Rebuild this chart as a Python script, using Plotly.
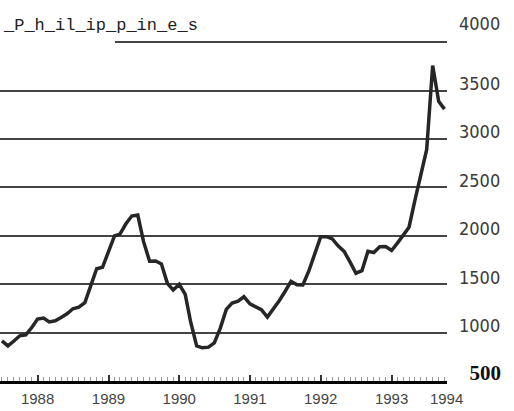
import pandas as pd
import plotly.graph_objects as go

# Monthly values, Jul 1987 .. Oct 1993
start_month = "1987-07-01"
values = [915, 863, 913, 967, 977, 1050, 1140, 1150, 1110, 1122,
          1156, 1195, 1247, 1263, 1310, 1485, 1660, 1675, 1835, 2000,
          2018, 2125, 2205, 2215, 1940, 1738, 1740, 1710, 1510, 1440,
          1500, 1395, 1110, 863, 843, 850, 893, 1047, 1240, 1305,
          1325, 1372, 1297, 1269, 1237, 1160, 1237, 1330, 1425, 1530,
          1494, 1493, 1637, 1808, 1990, 1992, 1968, 1895, 1840, 1728,
          1614, 1640, 1840, 1828, 1888, 1890, 1849, 1928, 2001, 2090,
          2365, 2624, 2890, 3760, 3390, 3310]
dates = pd.date_range(start_month, periods=len(values), freq="MS")

year_tick_dates = ["1988-01-01", "1989-01-01", "1990-01-01", "1991-01-01",
                   "1992-01-01", "1993-01-01", "1993-10-12"]
year_tick_labels = ["1988", "1989", "1990", "1991", "1992", "1993", "1994"]

y_ticks = [500, 1000, 1500, 2000, 2500, 3000, 3500, 4000]
y_tick_labels = ["<span style='font-family:Liberation Serif;font-weight:bold;font-size:21px;color:#111'>&nbsp;&nbsp;500</span>",
                 "1000", "1500", "2000", "2500", "3000", "3500", "4000<br>&nbsp;"]

title_text = "_P_h_il_ip_p_in_e_s"

fig = go.Figure()
fig.add_trace(go.Scatter(
    x=dates, y=values, mode="lines",
    line=dict(color="#262626", width=3.5),
    hoverinfo="skip", showlegend=False,
))

fig.update_layout(
    width=514, height=411, autosize=False,
    margin=dict(l=0, r=67, t=23, b=30, pad=0, autoexpand=False),
    paper_bgcolor="white", plot_bgcolor="white",
    xaxis=dict(
        type="date", automargin=False,
        range=["1987-06-21", "1993-10-14"],
        tickmode="array", tickvals=year_tick_dates, ticktext=year_tick_labels,
        ticks="inside", ticklen=6, tickwidth=1.5, tickcolor="#333",
        showgrid=False, zeroline=False,
        showline=True, linecolor="#000", linewidth=3,
        tickfont=dict(family="Liberation Sans, Arial, sans-serif", size=15, color="#444"),
        ticklabelstandoff=2,
        minor=dict(dtick="M1", tick0="1987-07-01", ticks="inside", ticklen=4,
                   tickcolor="#999", tickwidth=1, showgrid=False),
    ),
    yaxis=dict(
        automargin=False,
        range=[500, 4200], side="right",
        tickmode="array", tickvals=y_ticks, ticktext=y_tick_labels,
        showgrid=True, gridcolor="#444", gridwidth=1.6,
        zeroline=False, showline=False, ticks="",
        ticklabelstandoff=11, ticklabelshift=-7,
        tickfont=dict(family="Liberation Sans Narrow, DejaVu Sans Condensed, Liberation Mono, monospace",
                      size=18, color="#3a3a3a"),
    ),
    shapes=[dict(type="rect", xref="paper", yref="y", x0=-0.01, x1=115 / 447,
                 y0=3955, y1=4045, fillcolor="white", line=dict(width=0), layer="above")],
    annotations=[dict(
        text=title_text, xref="paper", yref="paper", x=0, y=0.993,
        xanchor="left", yanchor="middle", xshift=1, showarrow=False,
        font=dict(family="Liberation Mono, DejaVu Sans Mono, monospace", size=17, color="#222"),
    )],
)

fig.write_html("out.html", config={"displayModeBar": False},
               post_script="document.body.style.margin='0px';document.body.style.overflow='hidden';")
